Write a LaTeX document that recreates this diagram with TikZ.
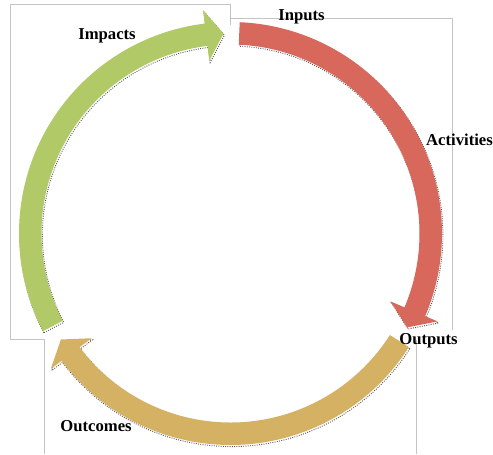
\documentclass[tikz,border=0pt]{standalone}
\usepackage{fontspec}
\setmainfont{Liberation Serif}
\definecolor{impactgreen}{RGB}{178,201,104}
\definecolor{inputred}{RGB}{217,104,92}
\definecolor{outcomegold}{RGB}{213,177,100}
\definecolor{framegray}{RGB}{196,196,196}

% One curved block arrow of the cycle, running clockwise from its tail angle.
% #1 = tail angle, #2 = fill colour
\newcommand\cyclearrow[2]{%
  \pgfmathsetmacro\arrbase{#1-110.5}%
  \pgfmathsetmacro\arrtip{#1-115.5}%
  \draw[arrowshadow, shift={(0.9,-1.6)}]
    (#1:211.5) arc[start angle=#1, end angle=\arrbase, radius=211.5]
    -- (\arrbase:225) -- (\arrtip:200) -- (\arrbase:174) -- (\arrbase:189)
    arc[start angle=\arrbase, end angle=#1, radius=189] -- cycle;
  \fill[#2]
    (#1:211.5) arc[start angle=#1, end angle=\arrbase, radius=211.5]
    -- (\arrbase:225) -- (\arrtip:200) -- (\arrbase:174) -- (\arrbase:189)
    arc[start angle=\arrbase, end angle=#1, radius=189] -- cycle;
}

\begin{document}
\begin{tikzpicture}[x=0.75pt, y=0.75pt,
  frameline/.style={draw=framegray, line width=0.75pt},
  arrowshadow/.style={draw=black, densely dotted, line width=0.7pt, opacity=0.65},
  stagelabel/.style={font=\fontsize{12.5}{14}\selectfont\bfseries, inner sep=0pt, anchor=base}]
\useasboundingbox (-230.5,-220.5) rectangle (262.5,233.5);

% partial frames of the text boxes
\draw[frameline] (-185.5,-105.5) -- (-219.5,-105.5) -- (-219.5,229.5) -- (0.5,229.5) -- (0.5,208.5);
\draw[frameline] (0.5,215.5) -- (221.5,215.5) -- (221.5,-96.5);
\draw[frameline] (-185.5,-105.5) -- (-185.5,-220.5);
\draw[frameline] (185.5,-106.5) -- (185.5,-220.5);

% the three arrows of the cycle
\cyclearrow{207.5}{impactgreen}
\cyclearrow{87.5}{inputred}
\cyclearrow{-32.5}{outcomegold}

% stage labels
\node[stagelabel] (impacts)    at (-123.5,194.5) {Impacts};
\node[stagelabel] (inputs)     at (71,213)       {Inputs};
\node[stagelabel] (activities) at (229,88.5)     {Activities};
\node[stagelabel] (outputs)    at (198,-110.5)   {Outputs};
\node[stagelabel] (outcomes)   at (-134.5,-197.5) {Outcomes};
\end{tikzpicture}
\end{document}
